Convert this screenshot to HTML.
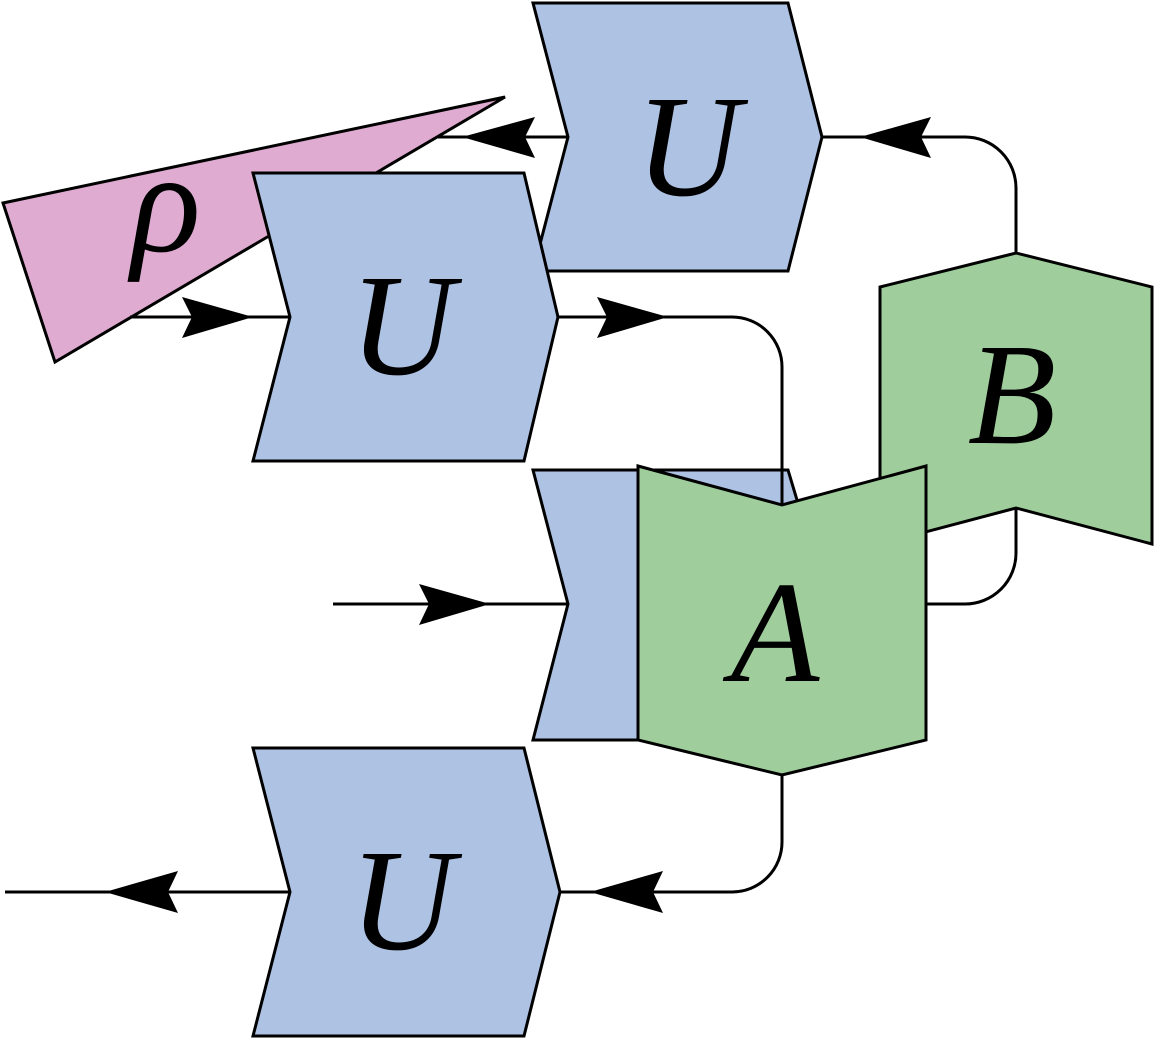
<!DOCTYPE html>
<html><head><meta charset="utf-8"><style>
html,body{margin:0;padding:0;background:#fff;width:1154px;height:1040px;overflow:hidden}
svg text{font-family:"Liberation Serif",serif;font-style:italic;font-size:145px;text-anchor:middle}
</style></head><body>
<svg width="1154" height="1040" viewBox="0 0 1154 1040" xmlns="http://www.w3.org/2000/svg">
<g stroke="#000" stroke-width="3" fill="none" stroke-linejoin="miter">
<polygon points="3,203 505,97 55,362" fill="#dfabd1"/>
<path d="M438,137 H568"/>
<path d="M130,317 H290"/>
<polygon points="533,3 788,3 822,137 788,271 533,271 568,137" fill="#aec2e4"/>
<polygon points="253,173 524,173 558,317 524,461 253,461 290,317" fill="#aec2e4"/>
<path d="M822,137 H965 A51,51 0 0 1 1016,188 V253"/>
<path d="M558,317 H732 A50,50 0 0 1 782,367 V505"/>
<path d="M926,604 H965 A51,51 0 0 0 1016,553 V508"/>
<path d="M333,604 H568"/>
<path d="M782,775 V842 A50,50 0 0 1 732,892 H560"/>
<path d="M290,892 H5"/>
<polygon points="880,287 1016,253 1152,287 1152,544 1016,508 880,544" fill="#9fce9c"/>
<polygon points="533,470 788,470 800,510 800,740 533,740 568,604" fill="#aec2e4"/>
<path d="M782,470 V505"/>
<polygon points="638,466 782,505 926,466 926,740 782,775 638,740" fill="#9fce9c"/>
<polygon points="253,748 524,748 560,892 524,1036 253,1036 290,892" fill="#aec2e4"/>
</g>
<g fill="#000">
<path d="M253,317 L182,297 L192,317 L182,338 Z"/>
<path d="M668,317 L597,297 L607,317 L597,338 Z"/>
<path d="M490,604 L419,584 L429,604 L419,625 Z"/>
<path d="M462,137 L535,117 L525,137 L535,158 Z"/>
<path d="M860,137 L931,117 L921,137 L931,158 Z"/>
<path d="M590,892 L663,871 L653,892 L663,913 Z"/>
<path d="M105,892 L178,871 L168,892 L178,913 Z"/>
</g>
<text x="688" y="195">U</text>
<text x="402" y="374">U</text>
<text x="402" y="949">U</text>
<text x="166" y="251">ρ</text>
<text x="775" y="681">A</text>
<text x="1012" y="443">B</text>
</svg>
</body></html>
